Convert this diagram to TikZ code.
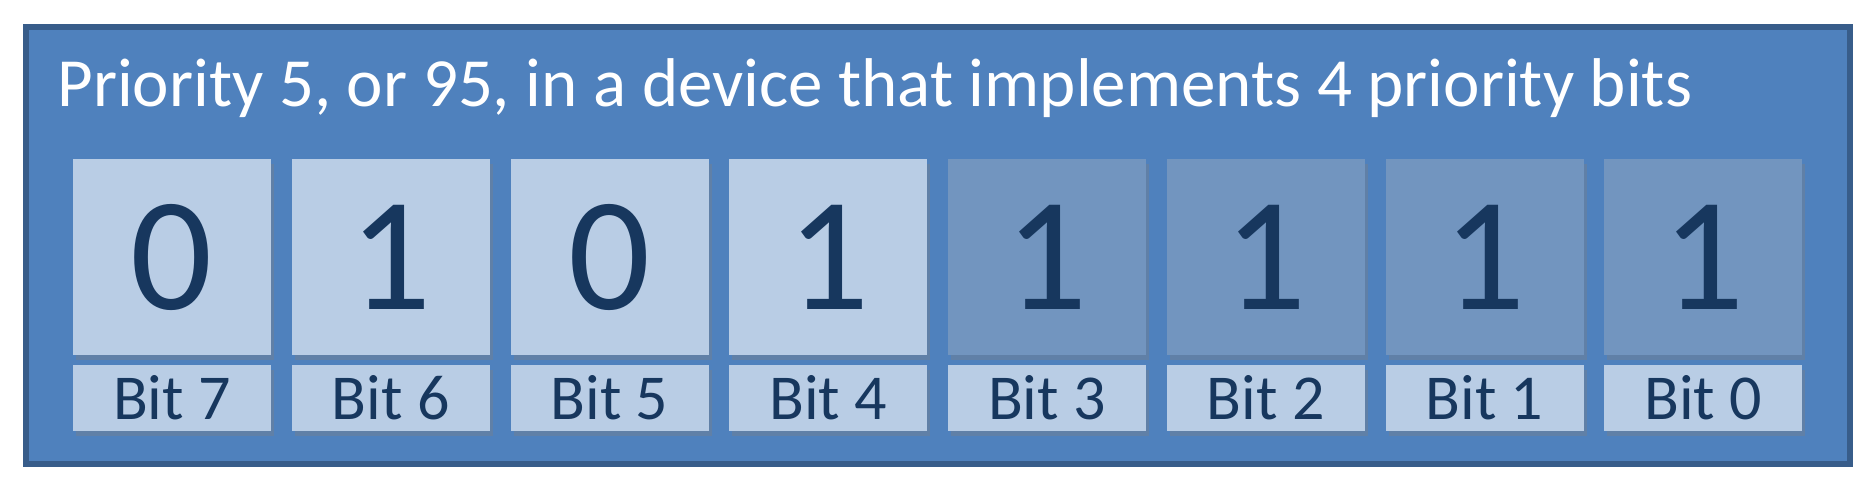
\documentclass[tikz,border=0pt]{standalone}
\usepackage{fontspec}
\setmainfont{Carlito}
\usetikzlibrary{shadows}

\definecolor{frameblue}{HTML}{4F81BD}
\definecolor{framedark}{HTML}{385D8A}
\definecolor{bitlight}{HTML}{B9CDE5}
\definecolor{bitdark}{HTML}{7295BF}
\definecolor{digitblue}{HTML}{17375E}

\begin{document}
\begin{tikzpicture}[x = 0.5pt, y = -0.5pt,
	bitbox/.style = {minimum width = 99pt, minimum height = 98pt, inner sep = 0pt, fill = bitlight, text = digitblue, font = \fontsize{81}{81}\selectfont, drop shadow = {opacity = 0.35, shadow xshift = 1.5pt, shadow yshift = -2.5pt}},
	unusedbox/.style = {bitbox, fill = bitdark},
	labelbox/.style = {minimum width = 99pt, minimum height = 33pt, inner sep = 0pt, fill = bitlight, text = digitblue, font = \fontsize{32}{32}\selectfont, drop shadow = {opacity = 0.35, shadow xshift = 1.5pt, shadow yshift = -2.5pt}}]

	% Definitions

	\def\X{218.75}	% Horizontal pitch of the bit boxes
	\def\S{172}	% Centre of the first box
	\def\B{257}	% Vertical centre of the value boxes
	\def\L{398}	% Vertical centre of the bit labels

	\useasboundingbox (0, 0) rectangle (1873, 490);

	% Frame

	\draw [line width = 3pt, fill = frameblue, draw = framedark] (26, 27) rectangle (1850, 464);
	\node (title) [anchor = base west, inner sep = 0pt, text = white, font = \fontsize{34.5}{34.5}\selectfont] at (57, 107) {Priority 5, or 95, in a device that implements 4 priority bits};

	% Implemented bits

	\node (b7) [bitbox] at (\S, \B) {0};
	\node (b6) [bitbox] at (\S + \X, \B) {1};
	\node (b5) [bitbox] at (\S + 2 * \X, \B) {0};
	\node (b4) [bitbox] at (\S + 3 * \X, \B) {1};

	% Unimplemented bits

	\node (b3) [unusedbox] at (\S + 4 * \X, \B) {1};
	\node (b2) [unusedbox] at (\S + 5 * \X, \B) {1};
	\node (b1) [unusedbox] at (\S + 6 * \X, \B) {1};
	\node (b0) [unusedbox] at (\S + 7 * \X, \B) {1};

	% Bit labels

	\node (l7) [labelbox] at (\S, \L) {Bit 7};
	\node (l6) [labelbox] at (\S + \X, \L) {Bit 6};
	\node (l5) [labelbox] at (\S + 2 * \X, \L) {Bit 5};
	\node (l4) [labelbox] at (\S + 3 * \X, \L) {Bit 4};
	\node (l3) [labelbox] at (\S + 4 * \X, \L) {Bit 3};
	\node (l2) [labelbox] at (\S + 5 * \X, \L) {Bit 2};
	\node (l1) [labelbox] at (\S + 6 * \X, \L) {Bit 1};
	\node (l0) [labelbox] at (\S + 7 * \X, \L) {Bit 0};

\end{tikzpicture}
\end{document}
